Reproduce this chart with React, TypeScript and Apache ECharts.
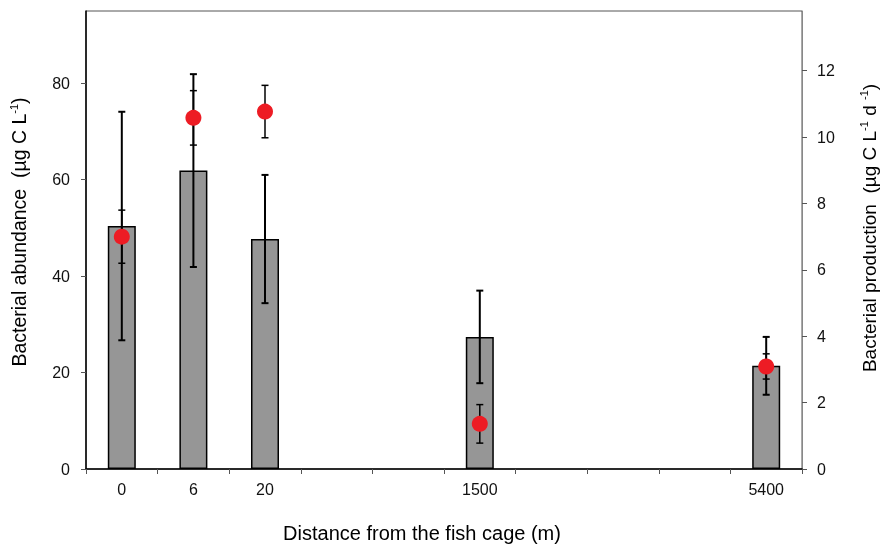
import React, { useEffect, useRef } from "react";
import * as echarts from "echarts";

const distances = ["0", "6", "20", "", "", "1500", "", "", "", "5400"];
const abundance = [50.4, 61.9, 47.7, null, null, 27.4, null, null, null, 21.4];
const abundanceErr = [23.7, 20.0, 13.3, null, null, 9.6, null, null, null, 6.0];
const production = [7.0, 10.58, 10.77, null, null, 1.36, null, null, null, 3.09];
const productionErr = [0.8, 0.82, 0.79, null, null, 0.58, null, null, null, 0.38];
const leftTicks = [0, 20, 40, 60, 80];
const rightTicks = [0, 2, 4, 6, 8, 10, 12];

const FONT = "'Liberation Sans', Arial, sans-serif";

function errData(vals: (number | null)[], errs: (number | null)[]) {
  const out: number[][] = [];
  vals.forEach((v, i) => {
    const e = errs[i];
    if (v != null && e != null) out.push([i, v - e, v + e]);
  });
  return out;
}

function errRenderer(capHalf: number, lw: number) {
  return (params: any, api: any) => {
    const i = api.value(0);
    const lo = api.coord([i, api.value(1)]);
    const hi = api.coord([i, api.value(2)]);
    const style = { stroke: "#000", lineWidth: lw };
    return {
      type: "group",
      children: [
        { type: "line", shape: { x1: lo[0], y1: lo[1], x2: hi[0], y2: hi[1] }, style },
        { type: "line", shape: { x1: hi[0] - capHalf, y1: hi[1], x2: hi[0] + capHalf, y2: hi[1] }, style },
        { type: "line", shape: { x1: lo[0] - capHalf, y1: lo[1], x2: lo[0] + capHalf, y2: lo[1] }, style },
      ],
    };
  };
}

export default function App() {
  const ref = useRef<HTMLDivElement>(null);
  useEffect(() => {
    if (!ref.current) return;
    const chart = echarts.init(ref.current, null, { renderer: "svg" });
    const leftRich = {
      a: { fontSize: 19.5, fontFamily: FONT, color: "#000", lineHeight: 22 },
      s: { fontSize: 11, fontFamily: FONT, color: "#000", lineHeight: 12, verticalAlign: "top" },
    };
    const rightRich = {
      a: { fontSize: 19, fontFamily: FONT, color: "#000", lineHeight: 22 },
      s: { fontSize: 11, fontFamily: FONT, color: "#000", lineHeight: 12, verticalAlign: "top" },
    };
    chart.setOption({
      animation: false,
      textStyle: { fontFamily: FONT },
      grid: {
        left: 86,
        right: 78,
        top: 11,
        bottom: 76,
        show: true,
        borderColor: "#555",
        borderWidth: 1,
        outerBoundsMode: "none",
      },
      xAxis: {
        type: "category",
        data: distances,
        boundaryGap: true,
        axisLine: { lineStyle: { color: "#000", width: 1.5 } },
        axisTick: { show: true, interval: 0, length: 5, lineStyle: { color: "#555", width: 1 } },
        axisLabel: { interval: 0, margin: 12, fontSize: 16, color: "#111", fontFamily: FONT },
        splitLine: { show: false },
      },
      yAxis: [
        {
          type: "value",
          min: 0,
          max: 95,
          interval: 20,
          axisLine: { show: true, lineStyle: { color: "#000", width: 1.5 } },
          axisTick: { show: true, length: 5, customValues: leftTicks, lineStyle: { color: "#555" } },
          axisLabel: { customValues: leftTicks, margin: 16, fontSize: 16, color: "#111", fontFamily: FONT },
          splitLine: { show: false },
        },
        {
          type: "value",
          min: 0,
          max: 13.8,
          interval: 2,
          position: "right",
          axisLine: { show: true, lineStyle: { color: "#888", width: 1 } },
          axisTick: { show: true, length: 5, customValues: rightTicks, lineStyle: { color: "#555" } },
          axisLabel: { customValues: rightTicks, margin: 15, fontSize: 16, color: "#111", fontFamily: FONT },
          splitLine: { show: false },
        },
      ],
      series: [
        {
          type: "bar",
          yAxisIndex: 0,
          data: abundance,
          barWidth: 28,
          itemStyle: { color: "#969696", borderColor: "#000", borderWidth: 1.5 },
          z: 1,
        },
        {
          type: "custom",
          yAxisIndex: 0,
          data: errData(abundance, abundanceErr),
          encode: { x: 0, y: [1, 2] },
          renderItem: errRenderer(3.5, 2),
          z: 2,
        },
        {
          type: "custom",
          yAxisIndex: 1,
          data: errData(production, productionErr),
          encode: { x: 0, y: [1, 2] },
          renderItem: errRenderer(3.5, 1.5),
          z: 3,
        },
        {
          type: "scatter",
          yAxisIndex: 1,
          data: production,
          symbol: "circle",
          symbolSize: 16,
          itemStyle: { color: "#ed1c24", opacity: 1 },
          z: 4,
        },
      ],
      graphic: [
        {
          type: "text",
          x: 19,
          y: 232,
          rotation: Math.PI / 2,
          style: {
            text: "{a|Bacterial abundance  (µg C L}{s|-1}{a|)}",
            rich: leftRich,
            align: "center",
            verticalAlign: "middle",
          },
        },
        {
          type: "text",
          x: 869,
          y: 228,
          rotation: Math.PI / 2,
          style: {
            text: "{a|Bacterial production  (µg C L}{s|-1}{a| d }{s|-1}{a|)}",
            rich: rightRich,
            align: "center",
            verticalAlign: "middle",
          },
        },
        {
          type: "text",
          x: 422,
          y: 533,
          style: {
            text: "Distance from the fish cage (m)",
            fontSize: 20,
            fontFamily: FONT,
            fill: "#000",
            align: "center",
            verticalAlign: "middle",
          },
        },
      ],
    });
    return () => chart.dispose();
  }, []);
  return <div ref={ref} style={{ width: 880, height: 545, position: "fixed", left: 0, top: 0 }} />;
}
